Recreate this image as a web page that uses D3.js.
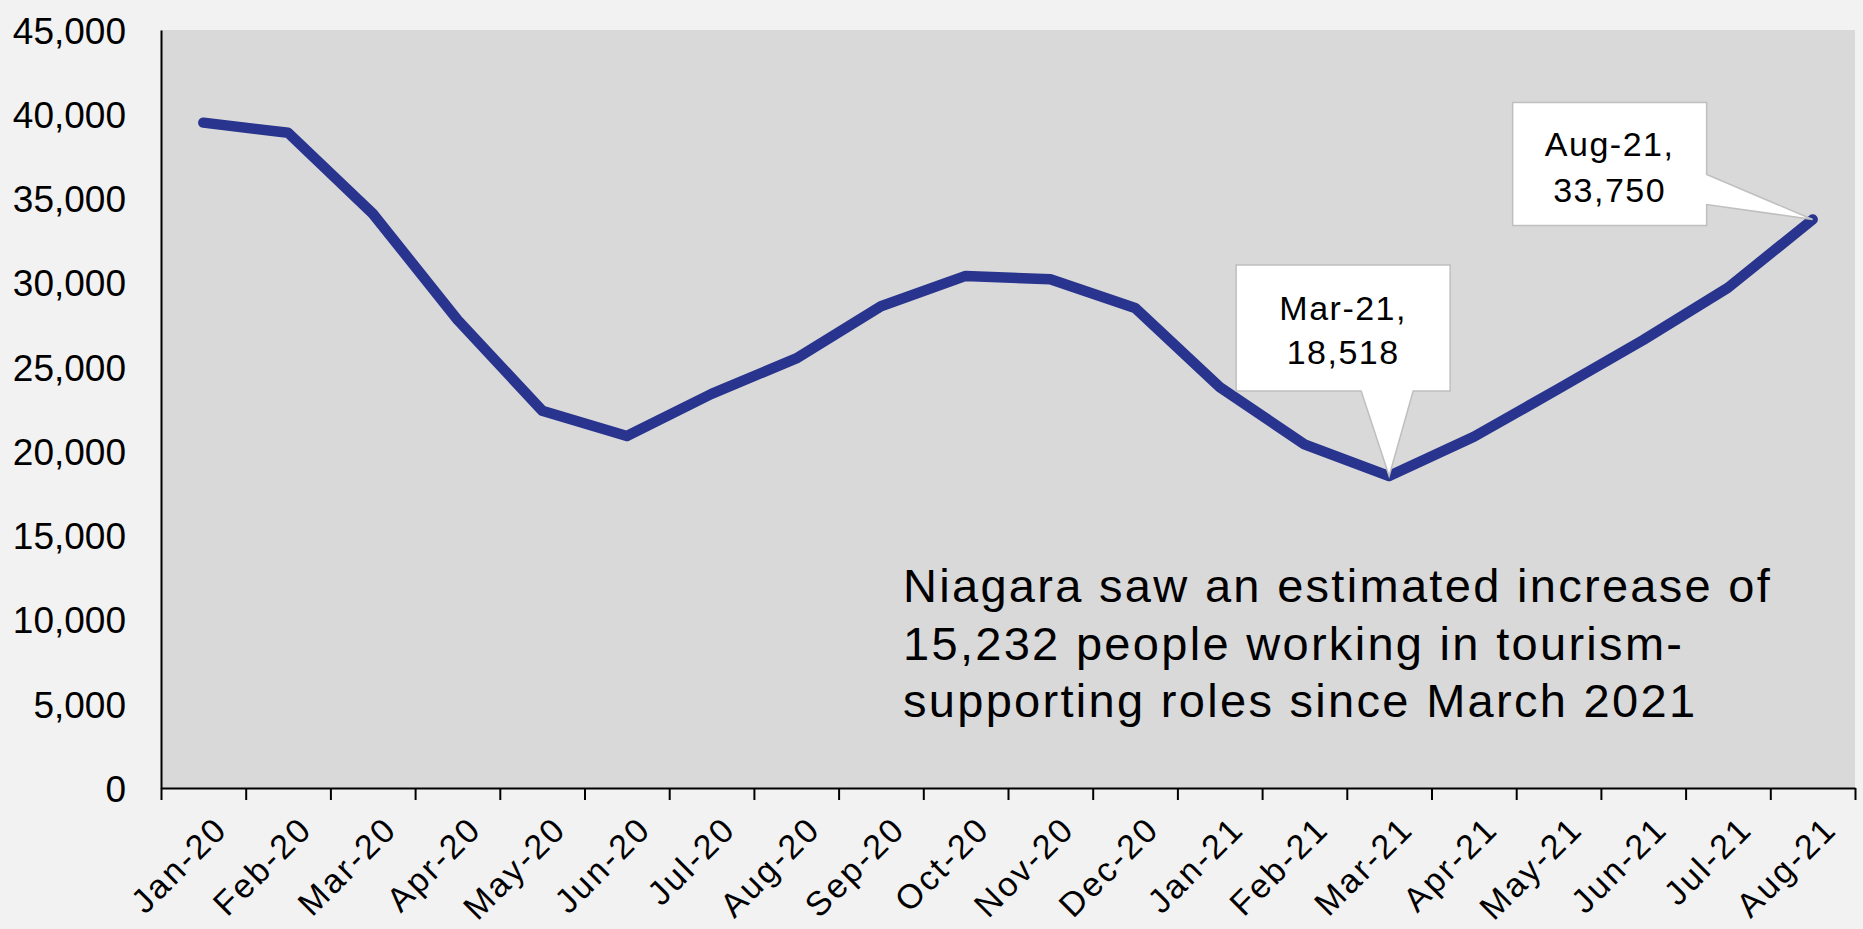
<!DOCTYPE html>
<html>
<head>
<meta charset="utf-8">
<script src="https://cdn.jsdelivr.net/npm/d3@7"></script>
<style>
  body { margin:0; background:#f2f2f2; }
  svg { display:block; font-family:"Liberation Sans", Arial, sans-serif; }
</style>
</head>
<body>
<div id="grafico"></div>
<script>
// data
const months = ["Jan-20","Feb-20","Mar-20","Apr-20","May-20","Jun-20","Jul-20","Aug-20","Sep-20","Oct-20",
                "Nov-20","Dec-20","Jan-21","Feb-21","Mar-21","Apr-21","May-21","Jun-21","Jul-21","Aug-21"];
const workers = [39500, 38900, 34100, 27800, 22400, 20900, 23400, 25500, 28600, 30400,
                 30200, 28500, 23800, 20400, 18518, 20850, 23700, 26600, 29700, 33750];
const yTicks = [0, 5000, 10000, 15000, 20000, 25000, 30000, 35000, 40000, 45000];
const callouts = [
  {month:"Mar-21", lines:["Mar-21,", "18,518"]},
  {month:"Aug-21", lines:["Aug-21,", "33,750"]}
];
const note = ["Niagara saw an estimated increase of",
              "15,232 people working in tourism-",
              "supporting roles since March 2021"];

const W = 1863, H = 929;
const margin = {top:30, right:8, bottom:141, left:161};
const width = W - margin.left - margin.right;
const height = H - margin.top - margin.bottom;

const data = months.map((m,i)=>({m:m, v:workers[i]}));

const svg = d3.select("#grafico").append("svg")
  .attr("width", W).attr("height", H);
const g = svg.append("g").attr("transform", `translate(${margin.left},${margin.top})`);

const x = d3.scaleBand().domain(months).range([0, width]);
const y = d3.scaleLinear().domain([0, 45000]).range([height, 0]);
const cx = d => x(d) + x.bandwidth()/2;

// plot area
g.append("rect").attr("width", width).attr("height", height).attr("fill", "#d9d9d9");

// y axis
const yAxis = g.append("g")
  .call(d3.axisLeft(y).tickValues(yTicks).tickSize(0).tickPadding(35).tickFormat(d3.format(",")));
yAxis.select(".domain").attr("stroke", "#000").attr("stroke-width", 2);
yAxis.selectAll("text").attr("font-size", 37).attr("fill", "#000")
  .attr("font-family", "Liberation Sans, Arial, sans-serif").attr("dy", "0.36em");

// x axis: ticks at category boundaries
const xb = d3.scaleLinear().domain([0, months.length]).range([0, width]);
const xAxis = g.append("g").attr("transform", `translate(0,${height})`)
  .call(d3.axisBottom(xb).tickValues(d3.range(months.length + 1)).tickSize(12).tickSizeOuter(0).tickFormat(""));
xAxis.select(".domain").attr("stroke", "#000").attr("stroke-width", 2);
xAxis.selectAll(".tick line").attr("stroke", "#000").attr("stroke-width", 2);

g.append("g").selectAll("text")
  .data(months).enter().append("text")
  .attr("transform", d => `translate(${cx(d) + 9},${height + 26}) rotate(-45)`)
  .attr("text-anchor", "end")
  .attr("dy", "0.71em")
  .attr("font-size", 34)
  .attr("letter-spacing", 2.5)
  .attr("fill", "#000")
  .text(d => d);

// line
const line = d3.line().x(d => cx(d.m)).y(d => y(d.v));
g.append("path").datum(data)
  .attr("d", line)
  .attr("fill", "none")
  .attr("stroke", "#28348e")
  .attr("stroke-width", 10.5)
  .attr("stroke-linecap", "round")
  .attr("stroke-linejoin", "round");

// callouts
const mar = data.find(d => d.m === callouts[0].month);
const aug = data.find(d => d.m === callouts[1].month);
let px = cx(mar.m), py = y(mar.v);
g.append("path")
  .attr("d", `M${px-153},${py-211}H${px+61}V${py-85}H${px+24}L${px},${py}L${px-28},${py-85}H${px-153}Z`)
  .attr("fill", "#fff").attr("stroke", "#bfbfbf").attr("stroke-width", 1.5);
g.append("text").attr("text-anchor", "middle").attr("font-size", 34).attr("letter-spacing", 1.5)
  .selectAll("tspan").data(callouts[0].lines).enter().append("tspan")
  .attr("x", px - 46).attr("y", (d,i) => py - 156 + i*44).text(d => d);

px = cx(aug.m); py = y(aug.v);
g.append("path")
  .attr("d", `M${px-300},${py-117}H${px-106}V${py-45}L${px},${py}L${px-106},${py-15}V${py+6}H${px-300}Z`)
  .attr("fill", "#fff").attr("stroke", "#bfbfbf").attr("stroke-width", 1.5);
g.append("text").attr("text-anchor", "middle").attr("font-size", 34).attr("letter-spacing", 1.5)
  .selectAll("tspan").data(callouts[1].lines).enter().append("tspan")
  .attr("x", px - 203).attr("y", (d,i) => py - 64 + i*46).text(d => d);

// note
g.append("text").attr("font-size", 47).attr("letter-spacing", 2.3).attr("fill", "#000")
  .selectAll("tspan").data(note).enter().append("tspan")
  .attr("x", 903 - margin.left).attr("y", (d,i) => 572 + i*57.5).text(d => d);
</script>
</body>
</html>
